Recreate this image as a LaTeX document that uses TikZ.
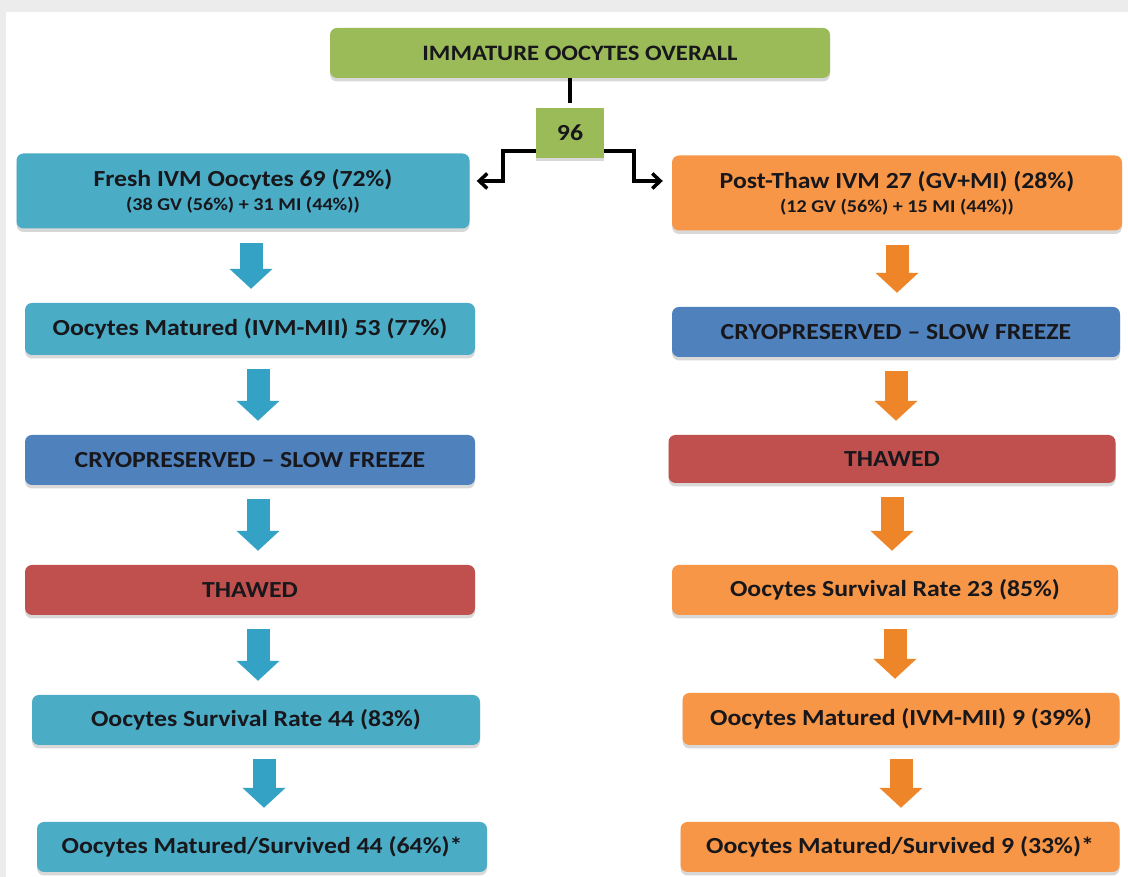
\documentclass[tikz,border=0pt]{standalone}
\usepackage{fontspec}
\setmainfont{Carlito}[FakeStretch=1.12]
\usetikzlibrary{arrows.meta,shadows}

\definecolor{ovgreen}{HTML}{9BBB59}
\definecolor{freshblue}{HTML}{4BACC6}
\definecolor{freshdark}{HTML}{33A2C4}
\definecolor{thaworange}{HTML}{F79646}
\definecolor{thawdark}{HTML}{EE8528}
\definecolor{cryoblue}{HTML}{4F81BD}
\definecolor{thawred}{HTML}{C0504D}
\definecolor{inkdark}{HTML}{17171C}

\begin{document}
\begin{tikzpicture}[x=1pt,y=1pt,
  box/.style={rounded corners=7pt, minimum height=50pt, inner sep=0pt, align=center,
    text=inkdark, font=\fontsize{23}{27}\selectfont\bfseries,
    drop shadow={shadow xshift=0pt, shadow yshift=-3.5pt, opacity=0.3}},
  flowarr/.style={line width=23pt, -{Triangle[length=20pt,width=42pt]},
    shorten <=14pt, shorten >=14pt},
  elbow/.style={line width=3.5pt, -{Straight Barb[length=8pt,width=15pt]}}]

% frame
\fill[gray!15] (0,0) rectangle (1128,877);
\fill[white] (6,0) rectangle (1128,865);
\useasboundingbox (0,0) rectangle (1128,877);

\node[box, fill=ovgreen, minimum width=500pt, font=\fontsize{22}{26}\selectfont\bfseries] (top) at (580,824) {IMMATURE OOCYTES OVERALL};
\node[box, fill=ovgreen, minimum width=68pt, rounded corners=0pt] (n96) at (570,744) {96};

% fresh IVM branch
\node[box, fill=freshblue, minimum width=453pt, minimum height=75pt] (fresh) at (243,686)
  {Fresh IVM Oocytes 69 (72\%)\\[-3pt]{\fontsize{18}{21}\selectfont (38 GV (56\%) + 31 MI (44\%))}};
\node[box, fill=freshblue, minimum width=450pt, minimum height=52pt] (lmat) at (250,548) {Oocytes Matured (IVM-MII) 53 (77\%)};
\node[box, fill=cryoblue, minimum width=450pt] (lcryo) at (250,417) {CRYOPRESERVED -- SLOW FREEZE};
\node[box, fill=thawred, minimum width=450pt] (lthaw) at (250,287) {THAWED};
\node[box, fill=freshblue, minimum width=448pt] (lsurv) at (256,157) {Oocytes Survival Rate 44 (83\%)};
\node[box, fill=freshblue, minimum width=450pt] (lfin) at (262,30) {Oocytes Matured/Survived 44 (64\%)*};

% post-thaw IVM branch
\node[box, fill=thaworange, minimum width=450pt, minimum height=75pt] (post) at (897,684)
  {Post-Thaw IVM 27 (GV+MI) (28\%)\\[-3pt]{\fontsize{18}{21}\selectfont (12 GV (56\%) + 15 MI (44\%))}};
\node[box, fill=cryoblue, minimum width=448pt] (rcryo) at (896,545) {CRYOPRESERVED -- SLOW FREEZE};
\node[box, fill=thawred, minimum width=447pt, minimum height=48pt] (rthaw) at (892,418) {THAWED};
\node[box, fill=thaworange, minimum width=446pt] (rsurv) at (895,287) {Oocytes Survival Rate 23 (85\%)};
\node[box, fill=thaworange, minimum width=437pt, minimum height=52pt] (rmat) at (901,158) {Oocytes Matured (IVM-MII) 9 (39\%)};
\node[box, fill=thaworange, minimum width=439pt] (rfin) at (900,30) {Oocytes Matured/Survived 9 (33\%)*};

% split
\draw[line width=3.5pt, shorten >=5pt] (n96.north |- top.south) -- (n96.north);
\draw[elbow] ([yshift=7pt]n96.south west) -- ++(-33,0) |- ([xshift=7pt,yshift=10pt]fresh.east);
\draw[elbow] ([yshift=7pt]n96.south east) -- ++(30,0) |- ([xshift=-9pt,yshift=12pt]post.west);

% steps
\foreach \a/\b in {fresh/lmat,lmat/lcryo,lcryo/lthaw,lthaw/lsurv,lsurv/lfin}
  \draw[flowarr, freshdark] ([xshift=8pt]\a.south) -- ([xshift=8pt]\a.south |- \b.north);
\foreach \a/\b in {post/rcryo,rcryo/rthaw,rthaw/rsurv,rsurv/rmat,rmat/rfin}
  \draw[flowarr, thawdark] (\a.south) -- (\a.south |- \b.north);

\end{tikzpicture}
\end{document}
